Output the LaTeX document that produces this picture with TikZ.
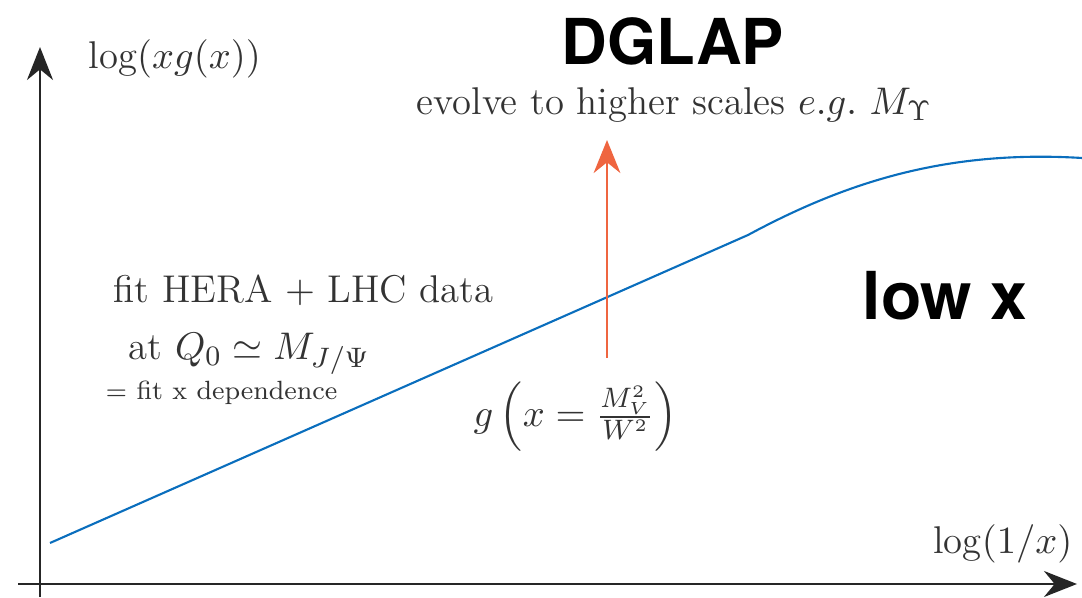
\documentclass[tikz,border=0pt]{standalone}
\usepackage{amsmath}
\usepackage{fontspec}
\newfontfamily\headfont{TeX Gyre Heros}
\usetikzlibrary{arrows.meta}
\definecolor{pdfblue}{HTML}{0A6EBD}
\definecolor{evolveorange}{HTML}{EF6540}

\begin{document}
\begin{tikzpicture}[x=0.01cm, y=0.01cm,
  axis/.style={draw=black!85, line width=0.7pt, -{Stealth[length=9.4pt, width=7.4pt]}},
  gluon/.style={draw=pdfblue, line width=0.6pt},
  evolve/.style={draw=evolveorange, line width=0.6pt, -{Stealth[length=9.4pt, width=7.6pt]}},
  lab/.style={inner sep=0pt, text=black!80, font=\fontsize{11}{13}\selectfont},
  small/.style={inner sep=0pt, text=black!80, font=\fontsize{7.5}{9}\selectfont},
  headline/.style={inner sep=0pt, font=\headfont\bfseries\fontsize{18}{21}\selectfont},
]
\useasboundingbox (0,0) rectangle (1082,597);

% axes
\coordinate (origin-y) at (40,0);
\coordinate (top-y) at (40,550);
\coordinate (origin-x) at (18,13);
\coordinate (end-x) at (1077,13);
\draw[axis] (origin-y) -- (top-y);
\draw[axis] (origin-x) -- (end-x);
\node[lab, anchor=base west] (ylabel) at (88,528) {$\log(xg(x))$};
\node[lab, anchor=base east] (xlabel) at (1073,44) {$\log(1/x)$};

% gluon density
\coordinate (g-start) at (50,54);
\coordinate (g-kink) at (748,362);
\coordinate (g-end) at (1082,439);
\draw[gluon] (g-start) -- (g-kink) .. controls (850,417) and (950,447) .. (g-end);

% evolution arrow
\coordinate (ev-from) at (607,239);
\coordinate (ev-to) at (607,457);
\draw[evolve] (ev-from) -- (ev-to);

\node[headline, anchor=base] (dglap) at (673,532) {DGLAP};
\node[lab, anchor=base west] (scales) at (416,482) {evolve to higher scales $e.g.\ M_\Upsilon$};
\node[headline, anchor=base west, font=\headfont\bfseries\fontsize{18.8}{22}\selectfont] (lowx) at (862,277) {low x};

\node[lab, anchor=base west] (fit) at (113,294) {fit HERA $+$ LHC data};
\node[lab, anchor=base west] (scale0) at (128,237) {at $Q_0 \simeq M_{J/\Psi}$};
\node[small, anchor=base west] (xdep) at (105,197) {$=$ fit x dependence};
\node[lab, anchor=west] (gx) at (473,180) {$g\,\Big(x=\frac{M_V^2}{W^2}\Big)$};
\end{tikzpicture}
\end{document}
